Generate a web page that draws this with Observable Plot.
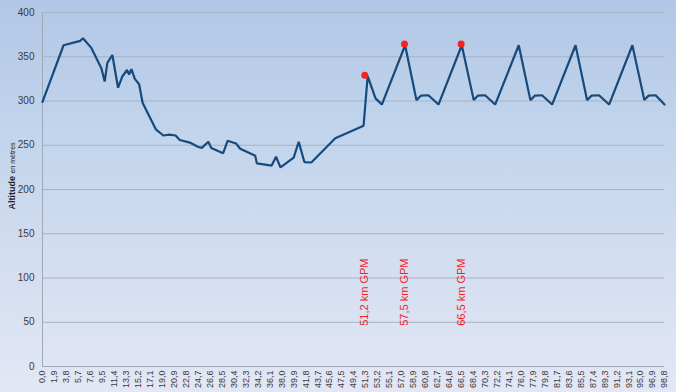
<!DOCTYPE html>
<html>
<head>
<meta charset="utf-8">
<script src="https://cdn.jsdelivr.net/npm/d3@7"></script>
<script src="https://cdn.jsdelivr.net/npm/@observablehq/plot@0.6"></script>
<style>
  html, body { margin: 0; padding: 0; }
  #chart {
    width: 676px; height: 392px; overflow: hidden;
    background: linear-gradient(to bottom, #b2c7e7 0%, #c2d5ec 35%, #d2ddf0 65%, #e3e7f5 100%);
  }
  #chart svg { display: block; }
</style>
</head>
<body>
<div id="chart"></div>
<script>
// Profile: distance (km) and altitude (m)
const kmValues = [0, 3.35, 6.0, 6.42, 7.76, 9.35, 9.88, 10.3, 11.1, 12.0, 12.7, 13.43, 13.75, 14.13, 14.66, 15.35, 15.9, 16.25, 18.0, 19.2, 20.1, 21.15, 21.8, 23.4, 24.75, 25.3, 26.35, 26.8, 28.7, 29.4, 30.75, 31.4, 33.8, 34.05, 36.4, 37.1, 37.8, 39.9, 40.7, 41.6, 42.7, 46.5, 51.0, 51.65, 52.9, 53.9, 57.6, 59.4, 60.1, 61.3, 62.9, 66.6, 68.5, 69.15, 70.3, 71.9, 75.65, 77.5, 78.2, 79.35, 80.95, 84.67, 86.5, 87.2, 88.4, 90.0, 93.7, 95.6, 96.25, 97.4, 98.8];
const altValues = [299, 363, 368, 371, 360, 337, 322, 343, 352, 315, 328, 335, 330, 336, 325, 319, 298, 293, 268, 261, 262, 261, 256, 253, 248, 247, 254, 247, 241, 255, 252, 246, 238, 229.5, 227, 237, 225, 236, 254, 231, 230.5, 258, 272, 328, 303, 296, 363, 301, 306, 306.5, 296, 363, 301, 306, 306.5, 296, 363, 301, 306, 306.5, 296, 363, 301, 306, 306.5, 296, 363, 301, 306, 306.5, 296];

// GPM markers
const gpmKm = [51.2, 57.5, 66.5];
const gpmAlt = [329, 364.5, 364.5];
const gpmLabels = ["51,2 km GPM", "57,5 km GPM", "66,5 km GPM"];

// Axis ticks
const xTickLabels = ["0,0","1,9","3,8","5,7","7,6","9,5","11,4","13,3","15,2","17,1","19,0","20,9","22,8","24,7","26,6","28,5","30,4","32,3","34,2","36,1","38,0","39,9","41,8","43,7","45,6","47,5","49,4","51,3","53,2","55,1","57,0","58,9","60,8","62,7","64,6","66,5","68,4","70,3","72,2","74,1","76,0","77,9","79,8","81,7","83,6","85,5","87,4","89,3","91,2","93,1","95,0","96,9","98,8"];
const yTicks = [0, 50, 100, 150, 200, 250, 300, 350, 400];

const profile = kmValues.map((k, i) => ({km: k, alt: altValues[i]}));
const gpm = gpmKm.map((k, i) => ({km: k, alt: gpmAlt[i], label: gpmLabels[i]}));
const xTickValues = xTickLabels.map(s => +s.replace(",", "."));
const labelOf = new Map(xTickValues.map((v, i) => [v, xTickLabels[i]]));

const red = "#f5221f";

const svg = Plot.plot({
  width: 676,
  height: 392,
  marginLeft: 42,
  marginRight: 12,
  marginTop: 12,
  marginBottom: 26,
  style: {background: "transparent", fontFamily: "'Liberation Sans', Arial, sans-serif", color: "#3a3a3a", overflow: "visible"},
  x: {domain: [0, 98.8], ticks: xTickValues, tickFormat: d => labelOf.get(d) ?? "", tickRotate: -90, tickSize: 0, tickPadding: 4, label: null, fontSize: 9},
  y: {domain: [0, 400], ticks: yTicks, tickSize: 0, tickPadding: 8, label: null},
  marks: [
    Plot.gridY(yTicks, {stroke: "#a6b3c4", strokeOpacity: 1}),
    Plot.ruleX([0], {stroke: "#9ea8b6"}),
    Plot.ruleY([0], {stroke: "#9ea8b6"}),
    Plot.line(profile, {x: "km", y: "alt", stroke: "#174a7c", strokeWidth: 2.2, strokeLinejoin: "miter"}),
    Plot.dot(gpm, {x: "km", y: "alt", r: 3.5, fill: red, stroke: "none"}),
    Plot.text(gpm, {x: "km", y: () => 46, text: "label", rotate: -90, textAnchor: "start", fill: red, fontSize: 11})
  ]
});

document.getElementById("chart").appendChild(svg);

// Y axis title
const s = d3.select(svg);
s.selectAll("g[aria-label='x-axis tick label'] text, g[aria-label='x-axis tick label']").attr("font-size", 9);
s.selectAll("g[aria-label='y-axis tick label']").attr("font-size", 10);
const t = s.append("text")
  .attr("transform", "translate(15,176) rotate(-90)")
  .attr("text-anchor", "middle")
  .attr("fill", "#222")
  .attr("font-family", "'Liberation Sans', Arial, sans-serif");
t.append("tspan").attr("font-weight", "bold").attr("font-size", 9).text("Altitude ");
t.append("tspan").attr("font-size", 7).text("en mètres");
</script>
</body>
</html>
